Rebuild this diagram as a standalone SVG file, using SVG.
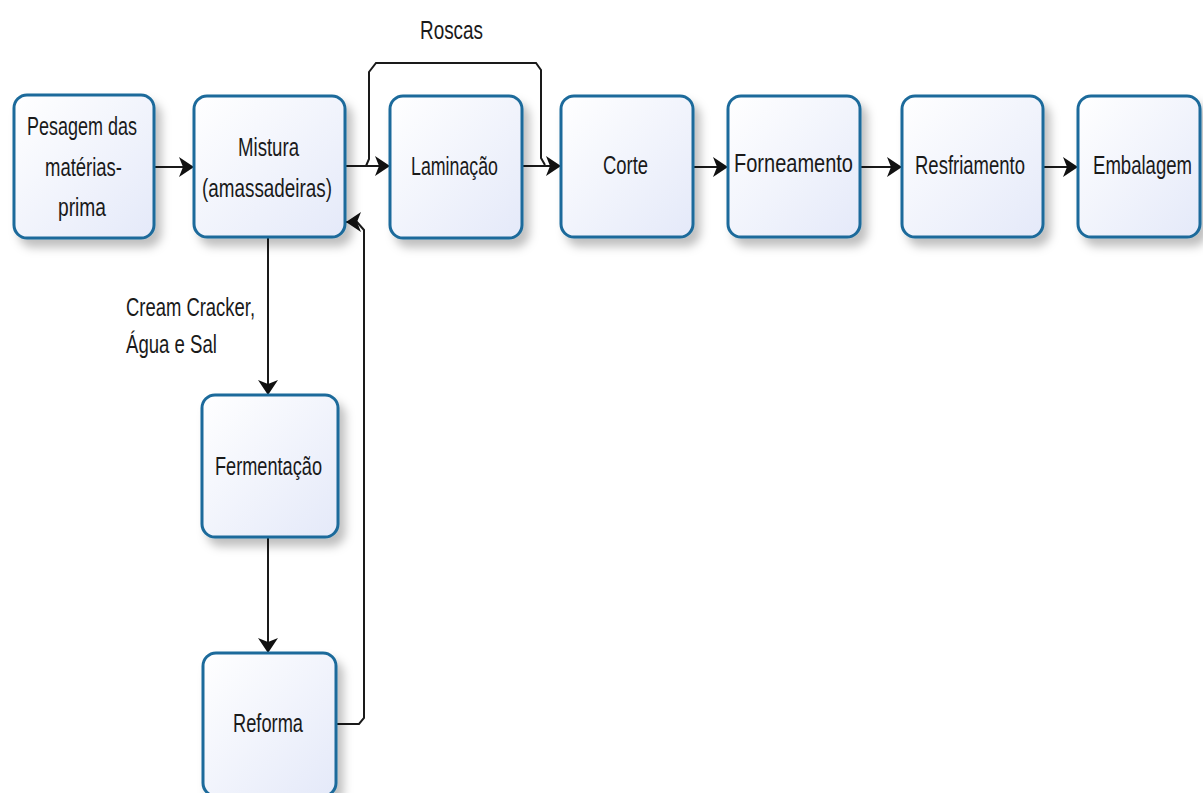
<svg xmlns="http://www.w3.org/2000/svg" width="1203" height="793" viewBox="0 0 1203 793">
<defs>
<linearGradient id="fillg" x1="0" y1="0" x2="1" y2="1">
<stop offset="0" stop-color="#ffffff"/>
<stop offset="1" stop-color="#e4e9f9"/>
</linearGradient>
<filter id="sh" x="-20%" y="-20%" width="150%" height="150%">
<feDropShadow dx="6" dy="8" stdDeviation="5" flood-color="#000" flood-opacity="0.25"/>
</filter>
<marker id="ah" markerWidth="18" markerHeight="22" refX="16" refY="11" orient="auto" markerUnits="userSpaceOnUse">
<path d="M1,1 L16,11 L1,21 L5,11 z" fill="#111"/>
</marker>
<style>
.box{fill:url(#fillg);stroke:#1d6b9b;stroke-width:3;filter:url(#sh)}
.t{font-family:"Liberation Sans Narrow","Liberation Sans",Arial,sans-serif;font-size:26px;fill:#1a1a1a}
.c{fill:none;stroke:#1a1a1a;stroke-width:2}
.ca{fill:none;stroke:#1a1a1a;stroke-width:2;marker-end:url(#ah)}
</style>
</defs>
<rect width="1203" height="793" fill="#ffffff"/>

<g id="connectors">
<path class="c" d="M366,166 L369,159 L369,72 L376,63 L536,63 L541,70 L541,158 L545,165"/>
<line class="ca" x1="154" y1="167" x2="194" y2="167"/>
<line class="ca" x1="345" y1="166" x2="390" y2="166"/>
<line class="ca" x1="522" y1="166" x2="561" y2="166"/>
<line class="ca" x1="693" y1="167" x2="728" y2="167"/>
<line class="ca" x1="860" y1="167" x2="902" y2="167"/>
<line class="ca" x1="1043" y1="167" x2="1078" y2="167"/>
<line class="ca" x1="268" y1="237" x2="268" y2="395"/>
<line class="ca" x1="268" y1="537" x2="268" y2="653"/>
<path class="ca" d="M336,724 L359,724 L364,718 L364,230 L357,222 L346,222"/>
<text class="t" x="420" y="39" textLength="63" lengthAdjust="spacingAndGlyphs">Roscas</text>
<text class="t" x="126" y="316" textLength="129" lengthAdjust="spacingAndGlyphs">Cream Cracker,</text>
<text class="t" x="126" y="353" textLength="91" lengthAdjust="spacingAndGlyphs">Água e Sal</text>
</g>

<g id="pesagem">
<rect class="box" x="14" y="95" width="140" height="143" rx="13"/>
<text class="t" x="27" y="135" textLength="110" lengthAdjust="spacingAndGlyphs">Pesagem das</text>
<text class="t" x="45" y="176" textLength="77" lengthAdjust="spacingAndGlyphs">matérias-</text>
<text class="t" x="58" y="216" textLength="48" lengthAdjust="spacingAndGlyphs">prima</text>
</g>

<g id="mistura">
<rect class="box" x="194" y="96" width="151" height="141" rx="13"/>
<text class="t" x="238" y="156" textLength="61" lengthAdjust="spacingAndGlyphs">Mistura</text>
<text class="t" x="202" y="197" textLength="130" lengthAdjust="spacingAndGlyphs">(amassadeiras)</text>
</g>

<g id="laminacao">
<rect class="box" x="390" y="96" width="132" height="142" rx="13"/>
<text class="t" x="411" y="175" textLength="87" lengthAdjust="spacingAndGlyphs">Laminação</text>
</g>

<g id="corte">
<rect class="box" x="561" y="96" width="132" height="141" rx="13"/>
<text class="t" x="603" y="174" textLength="45" lengthAdjust="spacingAndGlyphs">Corte</text>
</g>

<g id="forneamento">
<rect class="box" x="728" y="96" width="132" height="141" rx="13"/>
<text class="t" x="734" y="172" textLength="119" lengthAdjust="spacingAndGlyphs">Forneamento</text>
</g>

<g id="resfriamento">
<rect class="box" x="902" y="96" width="141" height="141" rx="13"/>
<text class="t" x="915" y="174" textLength="110" lengthAdjust="spacingAndGlyphs">Resfriamento</text>
</g>

<g id="embalagem">
<rect class="box" x="1078" y="96" width="122" height="141" rx="13"/>
<text class="t" x="1093" y="174" textLength="99" lengthAdjust="spacingAndGlyphs">Embalagem</text>
</g>

<g id="fermentacao">
<rect class="box" x="202" y="395" width="136" height="142" rx="13"/>
<text class="t" x="215" y="475" textLength="107" lengthAdjust="spacingAndGlyphs">Fermentação</text>
</g>

<g id="reforma">
<rect class="box" x="203" y="653" width="133" height="143" rx="13"/>
<text class="t" x="233" y="732" textLength="70" lengthAdjust="spacingAndGlyphs">Reforma</text>
</g>
</svg>
